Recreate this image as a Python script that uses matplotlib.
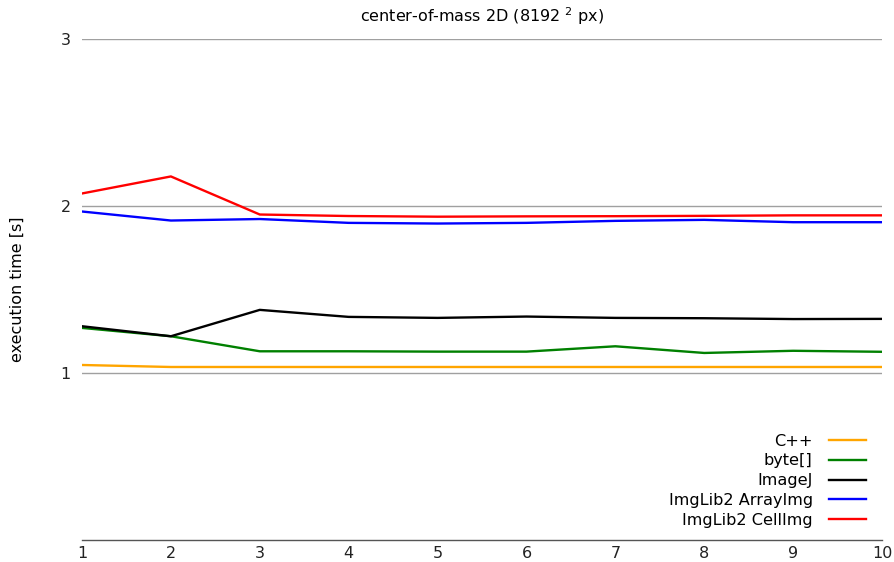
import matplotlib
matplotlib.use("Agg")
import matplotlib.pyplot as plt

x = [1, 2, 3, 4, 5, 6, 7, 8, 9, 10]
cpp = [1.048, 1.036, 1.036, 1.036, 1.036, 1.036, 1.036, 1.036, 1.036, 1.036]
byte_arr = [1.27, 1.22, 1.13, 1.13, 1.128, 1.128, 1.16, 1.12, 1.133, 1.127]
imagej = [1.28, 1.22, 1.378, 1.336, 1.33, 1.338, 1.33, 1.328, 1.323, 1.324]
array_img = [1.967, 1.913, 1.922, 1.899, 1.895, 1.899, 1.911, 1.917, 1.903, 1.903]
cell_img = [2.075, 2.177, 1.949, 1.94, 1.936, 1.938, 1.939, 1.941, 1.944, 1.944]

series = [
    ("C++", cpp, "#ffa500"),
    ("byte[]", byte_arr, "#008000"),
    ("ImageJ", imagej, "#000000"),
    ("ImgLib2 ArrayImg", array_img, "#0000ff"),
    ("ImgLib2 CellImg", cell_img, "#ff0000"),
]
yticks = [1, 2, 3]
xticks = [1, 2, 3, 4, 5, 6, 7, 8, 9, 10]

fig = plt.figure(figsize=(8.94, 5.62), dpi=100)
ax = fig.add_axes([82/894, 22/562, 800/894, 501/562])

for yv in yticks:
    ax.axhline(yv, color="#a0a0a0", lw=1.0, zorder=0)

for name, vals, col in series:
    ax.plot(x, vals, color=col, lw=1.7, label=name)

ax.set_xlim(1, 10)
ax.set_ylim(0, 3)
ax.set_xticks(xticks)
ax.set_yticks(yticks)
ax.tick_params(axis="both", length=0, labelsize=11.5, colors="#222222")
ax.tick_params(axis="y", pad=8)
ax.tick_params(axis="x", pad=4)
for s in ["top", "right", "left"]:
    ax.spines[s].set_visible(False)
ax.spines["bottom"].set_color("#555555")
ax.spines["bottom"].set_linewidth(1.0)

ax.set_ylabel("execution time [s]", fontsize=11.5, labelpad=26)
ax.set_title(r"center-of-mass 2D (8192 $^{2}$ px)", fontsize=11.5, pad=12)

leg = ax.legend(loc="lower right", frameon=False, markerfirst=False,
                fontsize=11.6, handlelength=2.3, labelspacing=0.3,
                borderaxespad=0.6, handletextpad=1.0,
                bbox_to_anchor=(1.0, -0.008))
for t in leg.get_texts():
    t.set_ha("right")
leg._legend_box.align = "right"

fig.savefig("out.png", dpi=100)
